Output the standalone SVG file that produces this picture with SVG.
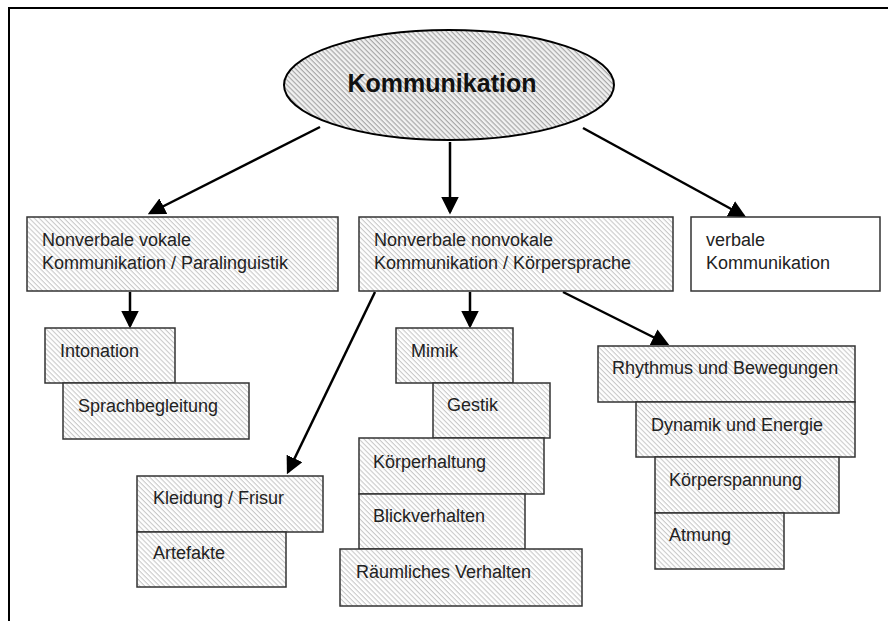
<svg xmlns="http://www.w3.org/2000/svg" width="888" height="621" viewBox="0 0 888 621">
<style>
.box{stroke:#333;stroke-width:1.5;fill:url(#hatch)}
.plain{stroke:#333;stroke-width:1.5;fill:#fff}
.t{font-family:"Liberation Sans",Arial,sans-serif;font-size:18px;fill:#222}
.title{font-family:"Liberation Sans",Arial,sans-serif;font-size:25px;font-weight:bold;fill:#111}
.conn line{stroke:#000;stroke-width:2.5;marker-end:url(#ah)}
</style>
<defs>
<pattern id="hatch" patternUnits="userSpaceOnUse" width="3.5" height="3.5" patternTransform="rotate(45)">
<rect width="3.5" height="3.5" fill="#fff"/>
<rect width="3.5" height="1.1" fill="#c9c9c9"/>
</pattern>
<pattern id="hatch2" patternUnits="userSpaceOnUse" width="3.5" height="3.5" patternTransform="rotate(45)">
<rect width="3.5" height="3.5" fill="#f2f2f2"/>
<rect width="3.5" height="1.2" fill="#a8a8a8"/>
</pattern>
<marker id="ah" markerWidth="7" markerHeight="7" refX="6" refY="3.5" orient="auto" markerUnits="strokeWidth">
<path d="M0,0 L7,3.5 L0,7 z" fill="#000"/>
</marker>
</defs>
<rect width="888" height="621" fill="#fff"/>
<path d="M9,621 V8 H888" fill="none" stroke="#000" stroke-width="2"/>

<g id="connectors" class="conn">
<line x1="320" y1="127" x2="150" y2="213"/>
<line x1="450" y1="142" x2="450" y2="212"/>
<line x1="583" y1="128" x2="744" y2="216"/>
<line x1="130" y1="292" x2="130" y2="326"/>
<line x1="470" y1="292" x2="470" y2="326"/>
<line x1="375" y1="292" x2="288" y2="472"/>
<line x1="563" y1="292" x2="667" y2="344"/>
</g>

<g id="n-kommunikation">
<ellipse cx="449" cy="85" rx="165" ry="55" fill="url(#hatch2)" stroke="#000" stroke-width="2"/>
<text class="title" x="442" y="92" text-anchor="middle">Kommunikation</text>
</g>

<g id="n-vokal">
<rect class="box" x="27" y="217" width="311" height="74"/>
<text class="t" x="42" y="246">Nonverbale vokale</text>
<text class="t" x="42" y="269">Kommunikation / Paralinguistik</text>
</g>
<g id="n-nonvokal">
<rect class="box" x="359" y="217" width="314" height="74"/>
<text class="t" x="374" y="246">Nonverbale nonvokale</text>
<text class="t" x="374" y="269">Kommunikation / Körpersprache</text>
</g>
<g id="n-verbal">
<rect class="plain" x="691" y="217" width="189" height="74"/>
<text class="t" x="706" y="246">verbale</text>
<text class="t" x="706" y="269">Kommunikation</text>
</g>

<g id="n-intonation">
<rect class="box" x="45" y="328" width="130" height="55"/>
<text class="t" x="60" y="357">Intonation</text>
</g>
<g id="n-sprachbegleitung">
<rect class="box" x="63" y="383" width="186" height="56"/>
<text class="t" x="78" y="412">Sprachbegleitung</text>
</g>

<g id="n-kleidung">
<rect class="box" x="137" y="476" width="186" height="56"/>
<text class="t" x="153" y="504">Kleidung / Frisur</text>
</g>
<g id="n-artefakte">
<rect class="box" x="137" y="532" width="149" height="55"/>
<text class="t" x="153" y="559">Artefakte</text>
</g>

<g id="n-mimik">
<rect class="box" x="396" y="328" width="117" height="55"/>
<text class="t" x="411" y="357">Mimik</text>
</g>
<g id="n-gestik">
<rect class="box" x="433" y="383" width="117" height="55"/>
<text class="t" x="447" y="411">Gestik</text>
</g>
<g id="n-koerperhaltung">
<rect class="box" x="359" y="438" width="185" height="56"/>
<text class="t" x="373" y="468">Körperhaltung</text>
</g>
<g id="n-blickverhalten">
<rect class="box" x="359" y="494" width="166" height="55"/>
<text class="t" x="373" y="522">Blickverhalten</text>
</g>
<g id="n-raeumlich">
<rect class="box" x="340" y="549" width="242" height="57"/>
<text class="t" x="356" y="578">Räumliches Verhalten</text>
</g>

<g id="n-rhythmus">
<rect class="box" x="598" y="346" width="257" height="56"/>
<text class="t" x="612" y="374">Rhythmus und Bewegungen</text>
</g>
<g id="n-dynamik">
<rect class="box" x="636" y="402" width="219" height="55"/>
<text class="t" x="651" y="431">Dynamik und Energie</text>
</g>
<g id="n-koerperspannung">
<rect class="box" x="655" y="457" width="184" height="56"/>
<text class="t" x="669" y="486">Körperspannung</text>
</g>
<g id="n-atmung">
<rect class="box" x="655" y="513" width="129" height="56"/>
<text class="t" x="669" y="541">Atmung</text>
</g>
</svg>
